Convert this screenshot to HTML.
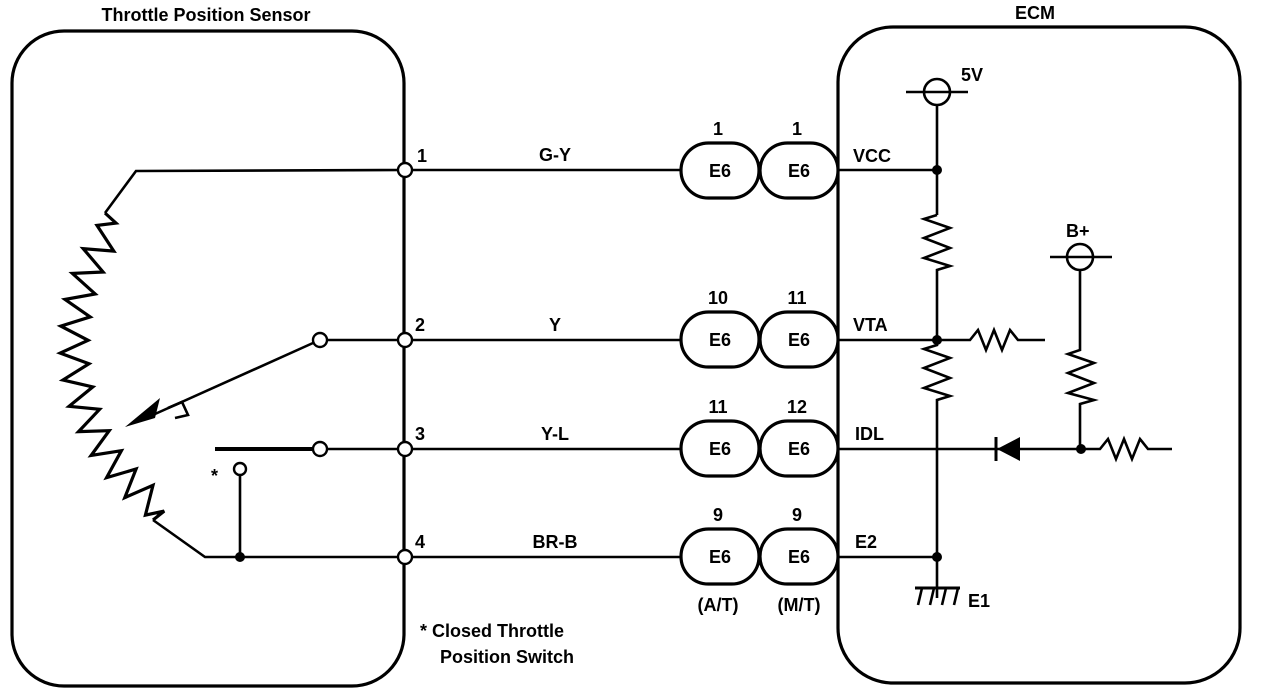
<!DOCTYPE html>
<html><head><meta charset="utf-8"><style>
html,body{margin:0;padding:0;background:#fff;}
svg{display:block;}
text{font-family:"Liberation Sans",Arial,sans-serif;fill:#000;}
</style></head><body>
<svg id="s" width="1264" height="692" viewBox="0 0 1264 692" xmlns="http://www.w3.org/2000/svg">
<g fill="none" stroke="#000" stroke-width="3.2">
<rect x="12" y="31" width="392" height="655" rx="52" ry="52"/>
<rect x="838" y="27" width="402" height="656" rx="55" ry="55"/>
</g>
<g stroke="#000" stroke-width="2.6" fill="none">
<line x1="405" y1="170" x2="680" y2="170"/>
<line x1="405" y1="340" x2="680" y2="340"/>
<line x1="405" y1="449" x2="680" y2="449"/>
<line x1="405" y1="557" x2="680" y2="557"/>
<polyline points="405,170 136,171 105,213"/>
<polyline points="153,520 205,557 405,557"/>
<line x1="320" y1="340" x2="405" y2="340"/>
<line x1="320" y1="449" x2="405" y2="449"/>
<line x1="215" y1="449" x2="312" y2="449" stroke-width="4"/>
<line x1="240" y1="476" x2="240" y2="557"/>
<line x1="313" y1="343" x2="155" y2="414"/>
<polyline points="168,408 182,402 188,415 175,418"/>
<line x1="838" y1="170" x2="937" y2="170"/>
<line x1="838" y1="340" x2="937" y2="340"/>
<line x1="838" y1="449" x2="1080" y2="449"/>
<line x1="838" y1="557" x2="937" y2="557"/>
<line x1="937" y1="105" x2="937" y2="215"/>
<polyline points="937,215 924,219 950,228 924,238 950,248 924,258 950,266 937,270 937,345 924,349 950,358 924,368 950,378 924,388 950,396 937,400 937,598"/>
<polyline points="937,340 970,340 978,330 986,350 994,330 1002,350 1010,330 1018,340 1045,340"/>
<circle cx="937" cy="92" r="13"/>
<line x1="906" y1="92" x2="968" y2="92"/>
<circle cx="1080" cy="257" r="13"/>
<line x1="1050" y1="257" x2="1112" y2="257"/>
<polyline points="1080,270 1080,350 1068,354 1094,363 1068,373 1094,383 1068,393 1094,400 1080,404 1080,449 1100,449 1108,439 1116,459 1124,439 1132,459 1140,439 1148,449 1172,449"/>
<line x1="996" y1="437" x2="996" y2="461" stroke-width="3"/>
<line x1="915" y1="588" x2="960" y2="588" stroke-width="3"/>
<line x1="922" y1="588" x2="918" y2="605"/>
<line x1="934" y1="588" x2="930" y2="605"/>
<line x1="946" y1="588" x2="942" y2="605"/>
<line x1="958" y1="588" x2="954" y2="605"/>
</g>
<path id="zz" fill="none" stroke="#000" stroke-width="3.2" stroke-linejoin="miter"/>
<polygon points="125,427 160,398 155,418" fill="#000"/>
<polygon points="997,449 1020,437 1020,461" fill="#000"/>
<g fill="#fff" stroke="#000" stroke-width="2.4">
<circle cx="405" cy="170" r="7"/>
<circle cx="405" cy="340" r="7"/>
<circle cx="405" cy="449" r="7"/>
<circle cx="405" cy="557" r="7"/>
<circle cx="320" cy="340" r="7"/>
<circle cx="320" cy="449" r="7"/>
<circle cx="240" cy="469" r="6"/>
</g>
<g fill="#000">
<circle cx="240" cy="557" r="5"/>
<circle cx="937" cy="170" r="5"/>
<circle cx="937" cy="340" r="5"/>
<circle cx="937" cy="557" r="5"/>
<circle cx="1081" cy="449" r="5"/>
</g>
<g fill="#fff" stroke="#000" stroke-width="3.2">
<rect x="681" y="143" width="78" height="55" rx="27.5"/>
<rect x="760" y="143" width="78" height="55" rx="27.5"/>
<rect x="681" y="312" width="78" height="55" rx="27.5"/>
<rect x="760" y="312" width="78" height="55" rx="27.5"/>
<rect x="681" y="421" width="78" height="55" rx="27.5"/>
<rect x="760" y="421" width="78" height="55" rx="27.5"/>
<rect x="681" y="529" width="78" height="55" rx="27.5"/>
<rect x="760" y="529" width="78" height="55" rx="27.5"/>
</g>
<g font-size="18" text-anchor="middle" font-weight="bold">
<text x="720" y="177">E6</text><text x="799" y="177">E6</text>
<text x="720" y="346">E6</text><text x="799" y="346">E6</text>
<text x="720" y="455">E6</text><text x="799" y="455">E6</text>
<text x="720" y="563">E6</text><text x="799" y="563">E6</text>
<text x="718" y="135">1</text><text x="797" y="135">1</text>
<text x="718" y="304">10</text><text x="797" y="304">11</text>
<text x="718" y="413">11</text><text x="797" y="413">12</text>
<text x="718" y="521">9</text><text x="797" y="521">9</text>
<text x="718" y="611">(A/T)</text><text x="799" y="611">(M/T)</text>
<text x="555" y="161">G-Y</text>
<text x="555" y="331">Y</text>
<text x="555" y="440">Y-L</text>
<text x="555" y="548">BR-B</text>
<text x="206" y="21">Throttle Position Sensor</text>
<text x="1035" y="19">ECM</text>
</g>
<g font-size="18" font-weight="bold">
<text x="417" y="162">1</text>
<text x="415" y="331">2</text>
<text x="415" y="440">3</text>
<text x="415" y="548">4</text>
<text x="853" y="162">VCC</text>
<text x="853" y="331">VTA</text>
<text x="855" y="440">IDL</text>
<text x="855" y="548">E2</text>
<text x="961" y="81">5V</text>
<text x="1066" y="237">B+</text>
<text x="968" y="607">E1</text>
<text x="211" y="482">*</text>
<text x="420" y="637">* Closed Throttle</text>
<text x="440" y="663">Position Switch</text>
</g>
</svg>
<script>
(function(){
var cx=272,cy=345,r=198,a0=218*Math.PI/180,a1=123*Math.PI/180,n=26,amp=14;
var d="M105,213";
for(var i=0;i<=n;i++){
 var t=a0+(a1-a0)*i/n;
 var rr=r+((i==0||i==n)?0:(i%2?amp:-amp));
 var x=cx+rr*Math.cos(t),y=cy+rr*Math.sin(t);
 d+="L"+x.toFixed(1)+","+y.toFixed(1);
}
d+="L153,520";
document.getElementById("zz").setAttribute("d",d);
})();
</script>
</body></html>
